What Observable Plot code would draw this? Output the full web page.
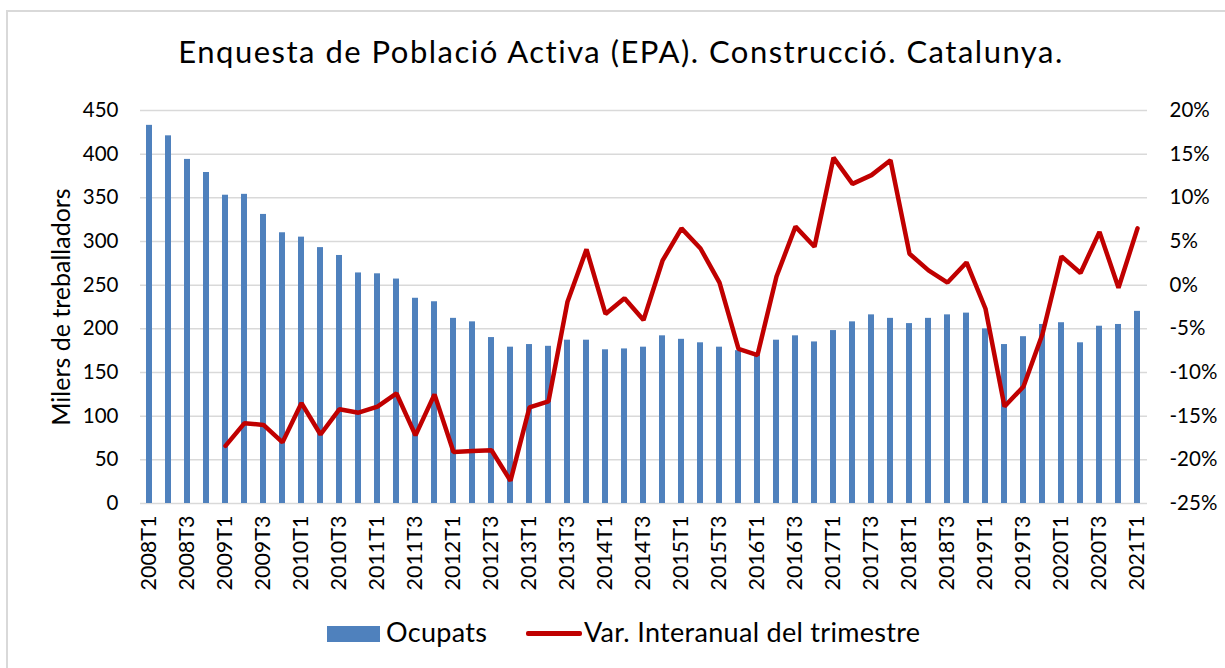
<!DOCTYPE html>
<html>
<head>
<meta charset="utf-8">
<script src="https://cdn.jsdelivr.net/npm/d3@7"></script>
<script src="https://cdn.jsdelivr.net/npm/@observablehq/plot@0.6"></script>
<style>
  body { margin: 0; background: #fff; font-family: Lato, "Open Sans", sans-serif; color: #000; }
  #frame { position: absolute; left: 6px; top: 10px; width: 1240px; height: 680px; border: 2px solid #d9d9d9; box-sizing: border-box; }
  #title { position: absolute; left: 0; top: 36px; width: 1242px; text-align: center; font-size: 31px; letter-spacing: 1.5px; line-height: 1; white-space: nowrap; }
  #chart { position: absolute; left: 0; top: 90px; }
  .leg { position: absolute; font-size: 27px; letter-spacing: 0.3px; line-height: 1; white-space: nowrap; }
  #sw1 { position: absolute; left: 327px; top: 626px; width: 53px; height: 16px; background: #4F81BD; }
  #sw2 { position: absolute; left: 526px; top: 631px; width: 56px; height: 5px; background: #C00000; border-radius: 2px; }
</style>
</head>
<body>
<div id="frame"></div>
<div id="title">Enquesta de Població Activa (EPA). Construcció. Catalunya.</div>
<div id="chart"></div>
<div id="sw1"></div><div class="leg" id="l1" style="left:386px;top:618px;">Ocupats</div>
<div id="sw2"></div><div class="leg" id="l2" style="left:584px;top:618px;">Var. Interanual del trimestre</div>
<script>
// Quarters 2008T1 .. 2021T1
const years = [2008,2009,2010,2011,2012,2013,2014,2015,2016,2017,2018,2019,2020,2021];
const quarters = years.flatMap(y => [1,2,3,4].map(t => `${y}T${t}`)).slice(0, 53);

// Ocupats (milers de treballadors)
const ocupats = [
  433, 421, 394, 379,
  353, 354, 331, 310,
  305, 293, 284, 264,
  263, 257, 235, 231,
  212, 208, 190, 179,
  182, 180, 187, 187,
  176, 177, 179, 192,
  188, 184, 179, 175,
  170, 187, 192, 185,
  198, 208, 216, 212,
  206, 212, 216, 218,
  200, 182, 191, 205,
  207, 184, 203, 205,
  220
];

// Var. interanual del trimestre (%), from 2009T1
const varStart = "2009T1";
const variacio = [
  -18.4, -15.8, -16.0, -18.0,
  -13.5, -17.1, -14.2, -14.6,
  -13.9, -12.4, -17.2, -12.5,
  -19.1, -19.0, -18.9, -22.4,
  -14.0, -13.3, -1.9, 4.1,
  -3.3, -1.5, -4.0, 2.8,
  6.5, 4.2, 0.3, -7.3,
  -8.0, 1.0, 6.7, 4.4,
  14.6, 11.6, 12.6, 14.3,
  3.6, 1.7, 0.3, 2.6,
  -2.7, -13.9, -11.6, -5.6,
  3.3, 1.4, 6.1, -0.3,
  6.5
];

const leftTicks = [0, 50, 100, 150, 200, 250, 300, 350, 400, 450];
const rightTicks = [-25, -20, -15, -10, -5, 0, 5, 10, 15, 20];
const xTickLabels = quarters.filter(q => q.endsWith("T1") || q.endsWith("T3"));
const yLabel = "Milers de treballadors";

// right axis [-25, 20] mapped onto left axis [0, 450]
const toLeft = p => (p + 25) * 10;

const barData = quarters.map((q, i) => ({q, v: ocupats[i]}));
const i0 = quarters.indexOf(varStart);
const lineData = variacio.map((v, i) => ({q: quarters[i0 + i], v}));

const chart = Plot.plot({
  width: 1225,
  height: 520,
  marginTop: 20,
  marginBottom: 107,
  marginLeft: 140,
  marginRight: 78,
  style: {fontFamily: "Lato, 'Open Sans', sans-serif", fontSize: "20px", color: "#000", background: "transparent"},
  x: {type: "band", domain: quarters, paddingInner: 0.68, paddingOuter: 0.34, axis: null},
  y: {domain: [0, 450], axis: null},
  marks: [
    Plot.ruleY(leftTicks, {stroke: "#d9d9d9", strokeWidth: 1.5}),
    Plot.barY(barData, {x: "q", y: "v", fill: "#4F81BD"}),
    Plot.line(lineData, {x: "q", y: d => toLeft(d.v), stroke: "#C00000", strokeWidth: 4.5, strokeLinejoin: "miter", strokeLinecap: "round"}),
    Plot.axisY({ticks: leftTicks, tickSize: 0, tickPadding: 22, label: null, fontSize: 20.5}),
    Plot.axisY({anchor: "right", ticks: rightTicks.map(toLeft), tickFormat: v => `${Math.round(v / 10 - 25)}%`, tickSize: 0, tickPadding: 22, textAnchor: "start", label: null, fontSize: 20.5}),
    Plot.axisX({ticks: xTickLabels, tickRotate: -90, tickSize: 0, tickPadding: 12, label: null, fontSize: 21.5}),
    Plot.text([yLabel], {text: d => d, frameAnchor: "left", textAnchor: "middle", rotate: -90, dx: -79, fontSize: 25})
  ]
});
document.getElementById("chart").appendChild(chart);
</script>
</body>
</html>
